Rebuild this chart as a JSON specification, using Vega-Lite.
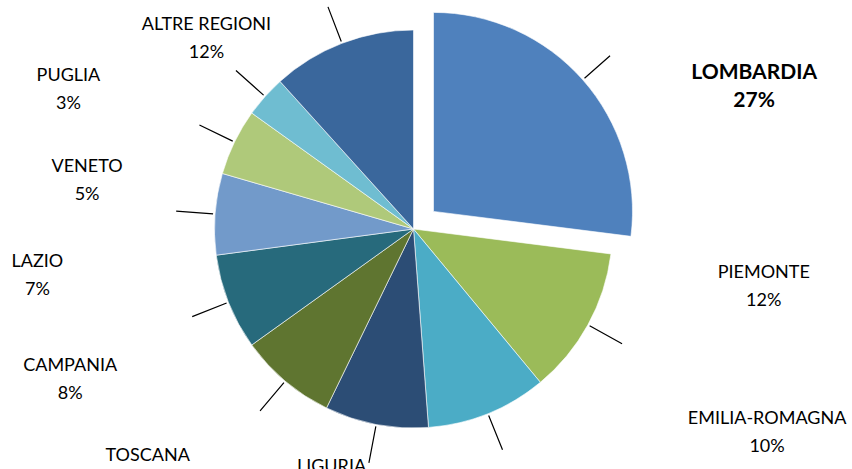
{
  "$schema": "https://vega.github.io/schema/vega-lite/v6.json",
  "width": 827,
  "height": 458,
  "autosize": "none",
  "padding": {"left": 0, "top": 0, "right": 25, "bottom": 11},
  "background": "white",
  "config": {"view": {"stroke": null}, "font": "Lato", "text": {"font": "Lato", "fontSize": 18, "baseline": "middle", "align": "center"}},
  "data": {
    "values": [
      {"region": "LOMBARDIA", "share": 0.27, "ord": 1},
      {"region": "PIEMONTE", "share": 0.12, "ord": 2},
      {"region": "EMILIA-ROMAGNA", "share": 0.098, "ord": 3},
      {"region": "LIGURIA", "share": 0.084, "ord": 4},
      {"region": "TOSCANA", "share": 0.079, "ord": 5},
      {"region": "CAMPANIA", "share": 0.078, "ord": 6},
      {"region": "LAZIO", "share": 0.066, "ord": 7},
      {"region": "VENETO", "share": 0.054, "ord": 8},
      {"region": "PUGLIA", "share": 0.034, "ord": 9},
      {"region": "ALTRE  REGIONI", "share": 0.117, "ord": 10}
    ]
  },
  "encoding": {
    "theta": {"field": "share", "type": "quantitative", "stack": true},
    "order": {"field": "ord", "type": "quantitative"},
    "detail": {"field": "region", "type": "nominal"},
    "color": {
      "field": "region",
      "type": "nominal",
      "legend": null,
      "scale": {
        "domain": ["LOMBARDIA", "PIEMONTE", "EMILIA-ROMAGNA", "LIGURIA", "TOSCANA", "CAMPANIA", "LAZIO", "VENETO", "PUGLIA", "ALTRE  REGIONI"],
        "range": ["#4F81BD", "#9BBB59", "#4BACC6", "#2C4D75", "#5F7530", "#276A7C", "#729ACA", "#AFC97A", "#6FBDD1", "#3A679C"]
      }
    }
  },
  "layer": [
    {
      "mark": {"type": "arc", "outerRadius": 199, "stroke": "white", "strokeWidth": 0.6},
      "encoding": {"opacity": {"condition": {"test": "datum.region === 'LOMBARDIA'", "value": 0}, "value": 1}}
    },
    {
      "mark": {"type": "arc", "outerRadius": 199, "xOffset": 20, "yOffset": -17.6, "stroke": "white", "strokeWidth": 0.6},
      "encoding": {"opacity": {"condition": {"test": "datum.region === 'LOMBARDIA'", "value": 1}, "value": 0}}
    },
    {
      "mark": {
        "type": "arc",
        "innerRadius": {"expr": "datum.region === 'LOMBARDIA' ? 228 : 201"},
        "outerRadius": {"expr": "datum.region === 'LOMBARDIA' ? 262 : 238"},
        "padAngle": 3, "fill": null, "stroke": "black", "strokeWidth": 1.2
      },
      "encoding": {"color": {"value": null}}
    },
    {
      "mark": {
        "type": "text",
        "dy": -14,
        "radius": {"expr": "{'LOMBARDIA': 369, 'PIEMONTE': 355, 'EMILIA-ROMAGNA': 408, 'LIGURIA': 265, 'TOSCANA': 359, 'CAMPANIA': 375, 'LAZIO': 379, 'VENETO': 330, 'PUGLIA': 372, 'ALTRE  REGIONI': 281}[datum.region]"},
        "thetaOffset": {"expr": "{'LOMBARDIA': 0.328, 'PIEMONTE': -0.339, 'EMILIA-ROMAGNA': -0.665, 'LIGURIA': 0.126, 'TOSCANA': 0.133, 'CAMPANIA': -0.037, 'LAZIO': -0.199, 'VENETO': -0.305, 'PUGLIA': -0.346, 'ALTRE  REGIONI': -0.461}[datum.region]"},
        "fontWeight": {"expr": "datum.region === 'LOMBARDIA' ? 'bold' : 'normal'"},
        "fontSize": {"expr": "datum.region === 'LOMBARDIA' ? 21 : 18"}
      },
      "encoding": {"text": {"field": "region"}, "color": {"value": "black"}}
    },
    {
      "mark": {
        "type": "text",
        "dy": 14,
        "radius": {"expr": "{'LOMBARDIA': 369, 'PIEMONTE': 355, 'EMILIA-ROMAGNA': 408, 'LIGURIA': 265, 'TOSCANA': 359, 'CAMPANIA': 375, 'LAZIO': 379, 'VENETO': 330, 'PUGLIA': 372, 'ALTRE  REGIONI': 281}[datum.region]"},
        "thetaOffset": {"expr": "{'LOMBARDIA': 0.328, 'PIEMONTE': -0.339, 'EMILIA-ROMAGNA': -0.665, 'LIGURIA': 0.126, 'TOSCANA': 0.133, 'CAMPANIA': -0.037, 'LAZIO': -0.199, 'VENETO': -0.305, 'PUGLIA': -0.346, 'ALTRE  REGIONI': -0.461}[datum.region]"},
        "fontWeight": {"expr": "datum.region === 'LOMBARDIA' ? 'bold' : 'normal'"},
        "fontSize": {"expr": "datum.region === 'LOMBARDIA' ? 21 : 18"}
      },
      "encoding": {"text": {"field": "share", "format": ".0%"}, "color": {"value": "black"}}
    }
  ]
}
